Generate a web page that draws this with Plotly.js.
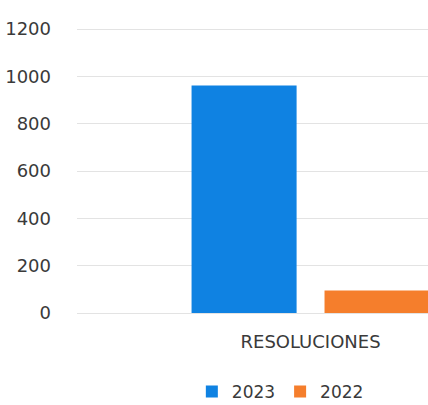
<!DOCTYPE html>
<html>
<head>
<meta charset="utf-8">
<script src="https://cdn.plot.ly/plotly-3.0.1.min.js"></script>
<style>
html,body{margin:0;padding:0;overflow:hidden;background:#fff;}
#chart{width:428px;height:405px;}
</style>
</head>
<body>
<div id="chart"></div>
<script>
const categories = ["RESOLUCIONES"];
const seriesNames = ["2023", "2022"];
const values2023 = [962];
const values2022 = [95];
const yTicks = [0, 200, 400, 600, 800, 1000, 1200];

const traces = [
  {type: "bar", name: seriesNames[0], x: categories, y: values2023,
   marker: {color: "#0f82e2"}, hoverinfo: "none"},
  {type: "bar", name: seriesNames[1], x: categories, y: values2022,
   marker: {color: "#f57e2c"}, hoverinfo: "none"}
];

const layout = {
  width: 428, height: 405,
  margin: {l: 77, r: 0, t: 22, b: 92},
  paper_bgcolor: "#ffffff", plot_bgcolor: "#ffffff",
  font: {family: "DejaVu Sans", size: 18, color: "#3a3a3a"},
  barmode: "group",
  bargap: 0.4,
  bargroupgap: 0.21,
  showlegend: true,
  legend: {orientation: "h", xref: "container", yref: "container",
           x: 0.655, xanchor: "center", y: 0.032, yanchor: "middle",
           font: {size: 17, color: "#3a3a3a"}, traceorder: "normal"},
  xaxis: {type: "category", range: [-0.527, 0.265], showgrid: false,
          showline: false, zeroline: false, ticks: "", ticklabelstandoff: 16,
          tickfont: {size: 18, color: "#3a3a3a"}},
  yaxis: {range: [0, 1230], tickvals: yTicks, ticktext: yTicks.map(String),
          showgrid: true, gridcolor: "#e3e3e3", gridwidth: 1,
          zeroline: true, zerolinecolor: "#e3e3e3", zerolinewidth: 1,
          showline: false, ticks: "", ticklabelstandoff: 25,
          tickfont: {size: 18, color: "#3a3a3a"}}
};

Plotly.newPlot("chart", traces, layout, {staticPlot: true, displayModeBar: false});
</script>
</body>
</html>
